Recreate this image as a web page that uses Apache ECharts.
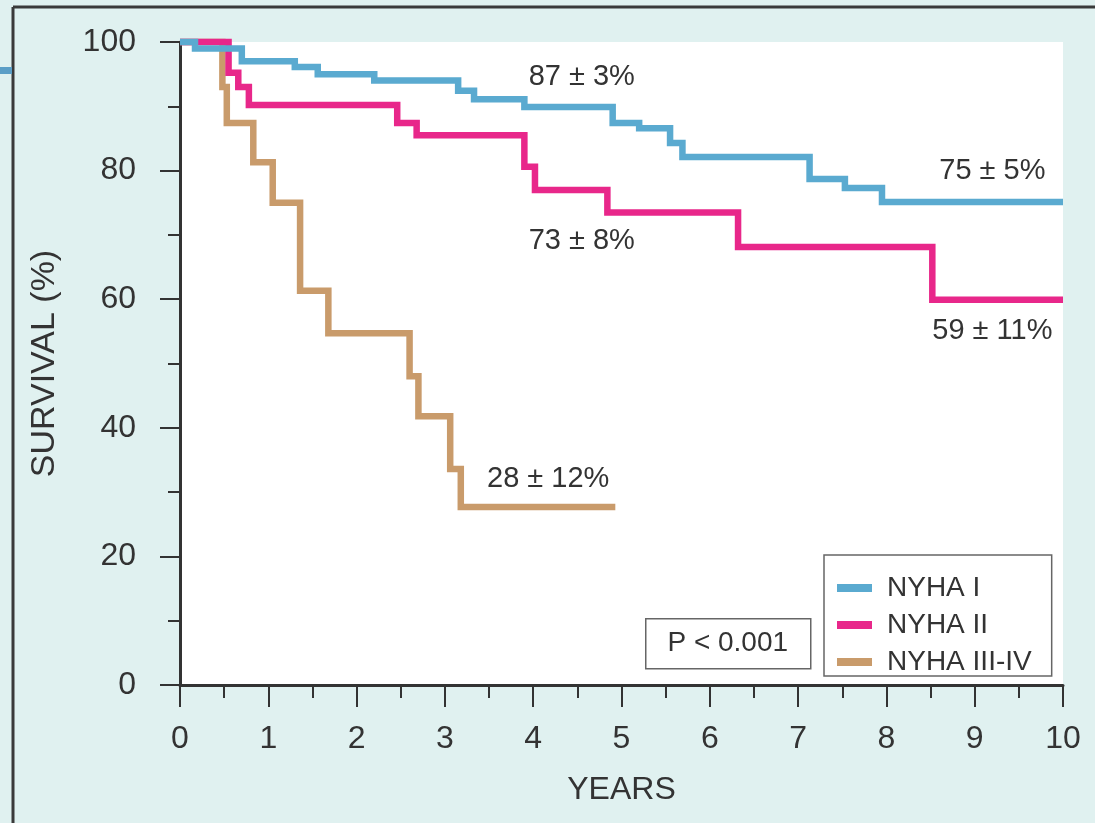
<!DOCTYPE html>
<html>
<head>
<meta charset="utf-8">
<script src="https://cdn.jsdelivr.net/npm/echarts@6/dist/echarts.min.js"></script>
<style>
  html, body { margin: 0; padding: 0; background: #e0f1f0; }
  #chart { width: 1095px; height: 823px; }
</style>
</head>
<body>
<div id="chart"></div>
<script>
// Kaplan-Meier steps (years, survival %)
var nyha1Years = [0, 0.17, 0.7, 1.3, 1.56, 2.2, 3.15, 3.33, 3.9, 4.9, 5.2, 5.55, 5.69, 7.13, 7.53, 7.95, 10];
var nyha1Surv = [100, 99, 97, 96.1, 95, 94, 92.4, 91.1, 89.9, 87.4, 86.6, 84.3, 82.1, 78.7, 77.3, 75.1, 75.1];

var nyha2Years = [0, 0.55, 0.66, 0.78, 2.46, 2.68, 3.9, 4.02, 4.84, 6.32, 8.52, 10];
var nyha2Surv = [100, 95.2, 93, 90.2, 87.4, 85.5, 80.6, 77, 73.5, 68.1, 59.9, 59.9];

var nyha34Years = [0, 0.48, 0.53, 0.83, 1.05, 1.36, 1.68, 2.6, 2.7, 3.06, 3.18, 4.93];
var nyha34Surv = [100, 93, 87.4, 81.3, 75, 61.3, 54.7, 48, 41.8, 33.6, 27.7, 27.7];

var seriesNames = ["NYHA I", "NYHA II", "NYHA III-IV"];
var yearTicks = [0, 1, 2, 3, 4, 5, 6, 7, 8, 9, 10];
var survTicks = [0, 20, 40, 60, 80, 100];

// survival estimate texts and where they sit (data coords)
var notes1 = [["87 ± 3%", 4.55, 94.6], ["75 ± 5%", 9.2, 79.9]];
var notes2 = [["73 ± 8%", 4.55, 69], ["59 ± 11%", 9.2, 55]];
var notes34 = [["28 ± 12%", 4.17, 32]];

var FONT = "Liberation Sans";
var chart = echarts.init(document.getElementById("chart"));

function zip(xs, ys) {
  return xs.map(function (x, i) { return [x, ys[i]]; });
}
function notes(list) {
  return {
    symbol: "circle",
    symbolSize: 0,
    label: {
      show: true,
      position: "inside",
      formatter: "{b}",
      fontFamily: FONT,
      fontSize: 29,
      color: "#333",
    },
    data: list.map(function (n) { return { name: n[0], coord: [n[1], n[2]] }; }),
  };
}
function kmSeries(name, xs, ys, color, z, list) {
  return {
    name: name,
    type: "line",
    step: "end",
    z: z,
    clip: false,
    symbol: "none",
    showSymbol: false,
    itemStyle: { color: color },
    lineStyle: { color: color, width: 6.5, join: "miter" },
    data: zip(xs, ys),
    markPoint: notes(list),
  };
}

var axisDark = "#333";

var option = {
  backgroundColor: "#e0f1f0",
  animation: false,
  grid: {
    left: 180,
    right: 32,
    top: 42,
    bottom: 138,
    show: true,
    backgroundColor: "#ffffff",
    borderWidth: 0,
  },
  legend: {
    data: seriesNames,
    orient: "vertical",
    left: 824,
    top: 555,
    icon: "rect",
    itemWidth: 35,
    itemHeight: 8,
    itemGap: 9,
    padding: [19, 20, 0, 13],
    backgroundColor: "#ffffff",
    borderColor: "#666",
    borderWidth: 1.5,
    borderRadius: 0,
    textStyle: {
      fontFamily: FONT,
      fontSize: 28,
      color: "#333",
      lineHeight: 26,
      padding: [0, 0, 0, 10],
    },
  },
  xAxis: {
    type: "value",
    min: 0,
    max: 10,
    interval: 1,
    name: "YEARS",
    nameLocation: "middle",
    nameGap: 89,
    nameTextStyle: { fontFamily: FONT, fontSize: 32, color: "#333" },
    axisLine: { show: true, lineStyle: { color: axisDark, width: 3 } },
    axisTick: { show: true, length: 22, lineStyle: { color: axisDark, width: 2 } },
    minorTick: { show: true, splitNumber: 2, length: 13, lineStyle: { color: axisDark, width: 2 } },
    splitLine: { show: false },
    axisLabel: {
      margin: 38,
      fontFamily: FONT,
      fontSize: 32,
      color: "#333",
      formatter: function (v) { return yearTicks.indexOf(v) >= 0 ? String(v) : ""; },
    },
  },
  yAxis: {
    type: "value",
    min: 0,
    max: 100,
    interval: 20,
    name: "SURVIVAL (%)",
    nameLocation: "middle",
    nameGap: 118,
    nameRotate: 90,
    nameTextStyle: { fontFamily: FONT, fontSize: 34, color: "#333" },
    axisLine: { show: true, lineStyle: { color: axisDark, width: 3 } },
    axisTick: { show: true, length: 20, lineStyle: { color: axisDark, width: 2 } },
    minorTick: { show: true, splitNumber: 2, length: 12, lineStyle: { color: axisDark, width: 2 } },
    splitLine: { show: false },
    axisLabel: {
      margin: 44,
      fontFamily: FONT,
      fontSize: 32,
      color: "#333",
      formatter: function (v) { return survTicks.indexOf(v) >= 0 ? String(v) : ""; },
    },
  },
  graphic: [
    // panel frame and the little blue tab on the left
    { type: "line", shape: { x1: 13, y1: 7, x2: 1095, y2: 7 }, style: { stroke: "#3a3a3a", lineWidth: 3 } },
    { type: "line", shape: { x1: 13, y1: 7, x2: 13, y2: 823 }, style: { stroke: "#3a3a3a", lineWidth: 3 } },
    { type: "rect", shape: { x: 0, y: 67, width: 12, height: 7 }, style: { fill: "#5b9ec6" } },
    // p value box
    {
      type: "group",
      left: 645,
      top: 618,
      z: 10,
      children: [
        { type: "rect", shape: { x: 0, y: 0, width: 165, height: 50 }, style: { fill: "#ffffff", stroke: "#666", lineWidth: 1.5 } },
        {
          type: "text",
          x: 82,
          y: 25,
          style: {
            text: "P < 0.001",
            fontFamily: FONT,
            fontSize: 28,
            fill: "#333",
            align: "center",
            verticalAlign: "middle",
          },
        },
      ],
    },
  ],
  series: [
    kmSeries(seriesNames[0], nyha1Years, nyha1Surv, "#5aaad0", 4, notes1),
    kmSeries(seriesNames[1], nyha2Years, nyha2Surv, "#e8278a", 3, notes2),
    kmSeries(seriesNames[2], nyha34Years, nyha34Surv, "#c99b6b", 2, notes34),
  ],
};

chart.setOption(option);
</script>
</body>
</html>
